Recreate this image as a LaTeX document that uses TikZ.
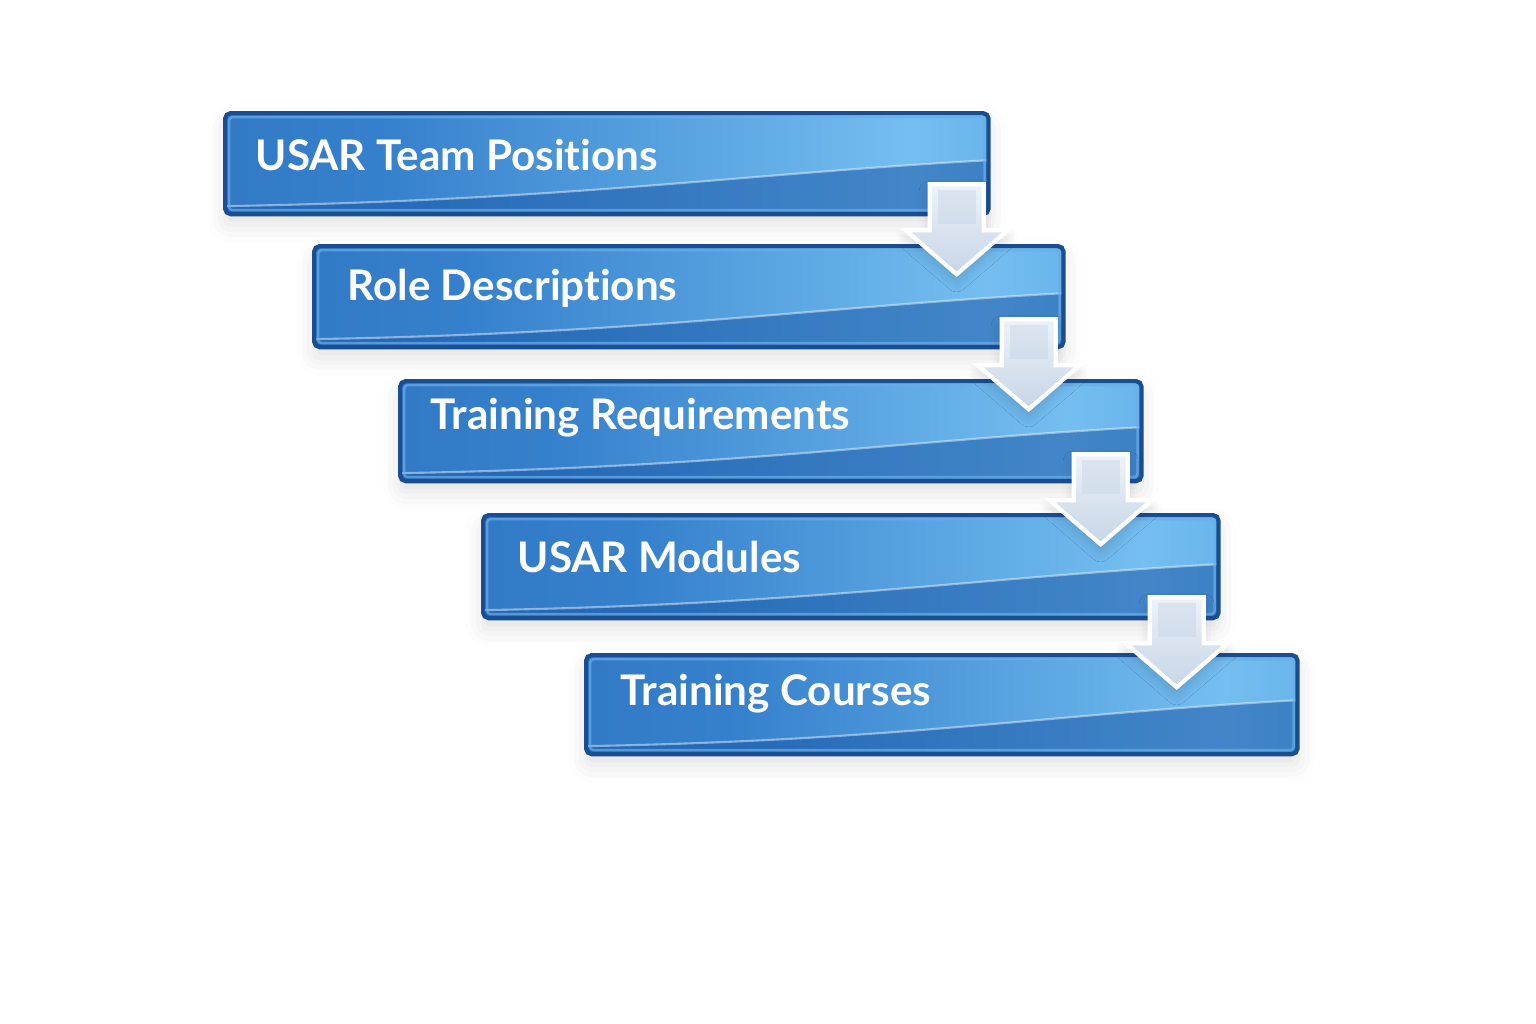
\documentclass[tikz,border=0pt]{standalone}
\usepackage{fontspec}
\setmainfont{Lato}[Ligatures=NoCommon]
\usetikzlibrary{calc,shadows.blur}

\definecolor{boxedge}{HTML}{1A4E92}
\definecolor{boxrim}{HTML}{6AAEE8}
\definecolor{boxleft}{HTML}{2A6AB6}
\definecolor{boxmid}{HTML}{3580CC}
\definecolor{boxglow}{HTML}{74BEF0}
\definecolor{boxright}{HTML}{3585D2}
\definecolor{bandblue}{HTML}{1A58A8}
\definecolor{arrowtop}{HTML}{EEF3F9}
\definecolor{arrowbottom}{HTML}{C6D5E6}
\pgfdeclarehorizontalshading{boxgloss}{100bp}{color(0bp)=(boxleft); color(35bp)=(boxmid); color(70bp)=(boxglow); color(100bp)=(boxright)}

\begin{document}
\begin{tikzpicture}[x=0.01cm, y=-0.01cm]
\tikzset{stepbox/.style={draw=boxedge, line width=1.2pt, rounded corners=1.6pt,
  shading=boxgloss, anchor=north west, minimum height=1.01cm, inner sep=0pt,
  blur shadow={shadow xshift=0pt, shadow yshift=-3pt, shadow opacity=12, shadow blur radius=5pt},
  path picture={
    \path (path picture bounding box.south west) coordinate (sw)
          (path picture bounding box.south east) coordinate (se)
          (path picture bounding box.north west) coordinate (nw);
    \fill[bandblue, opacity=0.55] ($(sw)+(0,-8)$)
      .. controls ($(sw)!0.45!(se)+(0,-14)$) and ($(se)+(-250,-40)$) .. ($(se)+(0,-54)$)
      -- (se) -- (sw) -- cycle;
    \draw[white, opacity=0.45, line width=0.6pt] ($(sw)+(0,-8)$)
      .. controls ($(sw)!0.45!(se)+(0,-14)$) and ($(se)+(-250,-40)$) .. ($(se)+(0,-54)$);
    \draw[boxrim, opacity=0.7, line width=0.7pt, rounded corners=1pt] ($(nw)+(4,4)$) rectangle ($(se)+(-4,-4)$);
  }}}
\tikzset{steplabel/.style={anchor=west, text=white, inner sep=0pt,
  font=\fontsize{12}{14}\selectfont\bfseries}}
\tikzset{flowarrow/.pic={
  \fill[top color=arrowtop, bottom color=arrowbottom, draw=white, line width=1.2pt,
    blur shadow={shadow xshift=0pt, shadow yshift=-2pt, shadow opacity=15, shadow blur radius=3pt}]
    (0,0) -- (-51,-44) -- (-27,-44) -- (-27,-90) -- (27,-90) -- (27,-44) -- (51,-44) -- cycle;
  \fill[arrowbottom, opacity=0.45] (-19,-50) rectangle (19,-84);
}}

\useasboundingbox (0,0) rectangle (1536,1024);

% the five steps
\node[stepbox, minimum width=7.63cm] (positions) at (223,111) {};
\node[stepbox, minimum width=7.49cm] (roles) at (312,244) {};
\node[stepbox, minimum width=7.41cm, minimum height=1.00cm] (requirements) at (398,379) {};
\node[stepbox, minimum width=7.35cm, minimum height=1.03cm] (modules) at (481,513) {};
\node[stepbox, minimum width=7.11cm, minimum height=0.99cm] (courses) at (584,653) {};

\node[steplabel] (positionstext) at ($(positions.north west)+(32,44)$) {USAR Team Positions};
\node[steplabel] (rolestext) at ($(roles.north west)+(35,44)$) {Role Descriptions};
\node[steplabel] (requirementstext) at ($(requirements.north west)+(32,39)$) {Training Requirements};
\node[steplabel] (modulestext) at ($(modules.north west)+(36,44)$) {USAR Modules};
\node[steplabel] (coursestext) at ($(courses.north west)+(36,41)$) {Training Courses};

% arrows, tip on the next box
\pic at ($(positions.south east)+(-34,58)$) {flowarrow};
\pic at ($(roles.south east)+(-37,60)$) {flowarrow};
\pic at ($(requirements.south east)+(-43,61)$) {flowarrow};
\pic at ($(modules.south east)+(-44,67)$) {flowarrow};
\end{tikzpicture}
\end{document}
